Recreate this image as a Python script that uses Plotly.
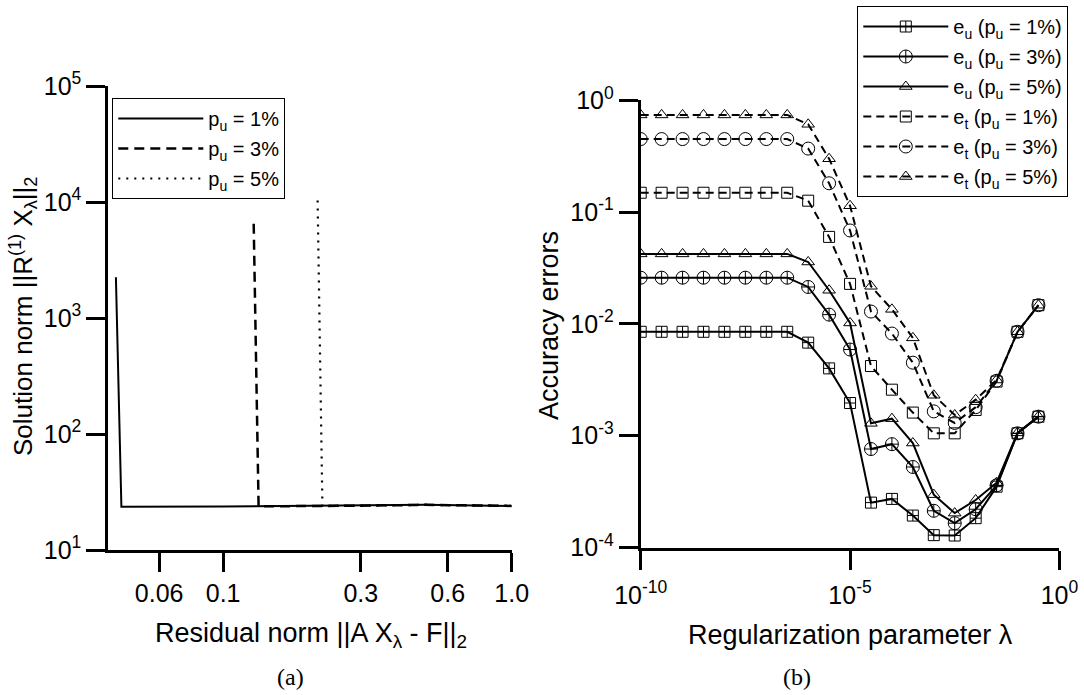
import plotly.graph_objects as go

W, H = 1084, 695

# ---------------- Panel (a): L-curves ----------------
res_p1 = [0.0425, 0.0444, 0.1, 0.3, 0.5, 1.0]
sol_p1 = [2250, 23.6, 23.7, 24.1, 24.5, 24.0]
res_p3 = [0.1276, 0.1327, 0.3, 0.5, 1.0]
sol_p3 = [6500, 23.8, 24.1, 24.5, 24.0]
res_p5 = [0.2125, 0.2208, 0.3, 0.5, 1.0]
sol_p5 = [10300, 24.0, 24.1, 24.5, 24.0]

a_xtick_vals = [0.06, 0.1, 0.3, 0.6, 1.0]
a_xtick_text = ["0.06", "0.1", "0.3", "0.6", "1.0"]
a_ytick_vals = [1e1, 1e2, 1e3, 1e4, 1e5]
a_ytick_text = ["10<sup>1</sup>", "10<sup>2</sup>", "10<sup>3</sup>", "10<sup>4</sup>", "10<sup>5</sup>"]

# ---------------- Panel (b): accuracy errors ----------------
lam = [1e-10, 3.16e-10, 1e-9, 3.16e-9, 1e-8, 3.16e-8, 1e-7, 3.16e-7, 1e-6, 3.16e-6,
       1e-5, 3.16e-5, 1e-4, 3.16e-4, 1e-3, 3.16e-3, 1e-2, 3.16e-2, 1e-1, 3.16e-1]
eu_p1 = [0.0085, 0.0085, 0.0085, 0.0085, 0.0085, 0.0085, 0.0085, 0.0085, 0.0068, 0.0040,
         0.00196, 0.000252, 0.000272, 0.000193, 0.000129, 0.000128, 0.000183, 0.00035, 0.00105, 0.00148]
eu_p3 = [0.0259, 0.0259, 0.0259, 0.0259, 0.0259, 0.0259, 0.0259, 0.0259, 0.0214, 0.0121,
         0.0059, 0.00076, 0.00084, 0.000525, 0.000213, 0.000165, 0.00022, 0.00036, 0.00105, 0.00148]
eu_p5 = [0.0423, 0.0423, 0.0423, 0.0423, 0.0423, 0.0423, 0.0423, 0.0423, 0.0358, 0.020,
         0.0102, 0.00129, 0.00142, 0.00086, 0.000297, 0.000203, 0.000266, 0.00038, 0.00106, 0.00149]
et_p1 = [0.149, 0.149, 0.149, 0.149, 0.149, 0.149, 0.149, 0.149, 0.1265, 0.060,
         0.0228, 0.0042, 0.00258, 0.00161, 0.00105, 0.00105, 0.0017, 0.00305, 0.0085, 0.0147]
et_p3 = [0.45, 0.45, 0.45, 0.45, 0.45, 0.45, 0.45, 0.45, 0.37, 0.181,
         0.0685, 0.0129, 0.0082, 0.0045, 0.00165, 0.0013, 0.0018, 0.0031, 0.0085, 0.0147]
et_p5 = [0.74, 0.74, 0.74, 0.74, 0.74, 0.74, 0.74, 0.74, 0.61, 0.30,
         0.114, 0.0217, 0.0135, 0.0075, 0.0023, 0.00153, 0.0021, 0.00315, 0.0085, 0.0147]

b_xtick_vals = [1e-10, 1e-5, 1e0]
b_xtick_text = ["10<sup>-10</sup>", "10<sup>-5</sup>", "10<sup>0</sup>"]
b_ytick_vals = [1e-4, 1e-3, 1e-2, 1e-1, 1e0]
b_ytick_text = ["10<sup>-4</sup>", "10<sup>-3</sup>", "10<sup>-2</sup>", "10<sup>-1</sup>", "10<sup>0</sup>"]

FONT = "Liberation Sans, Arial, Helvetica, sans-serif"
SERIF = "Liberation Serif, Times New Roman, serif"


def px_x(p):
    return p / W


def px_y(p):
    return 1 - p / H


fig = go.Figure()

# panel (a) traces
a_series = [
    (res_p1, sol_p1, "p<sub>u</sub> = 1%", "solid", 2),
    (res_p3, sol_p3, "p<sub>u</sub> = 3%", "10px,6px", 2.5),
    (res_p5, sol_p5, "p<sub>u</sub> = 5%", "2px,6px", 2.2),
]
for i, (xv, yv, nm, dash, lw) in enumerate(a_series):
    fig.add_trace(go.Scatter(x=xv, y=yv, mode="lines", name=nm,
                             line=dict(color="black", width=lw, dash=dash),
                             xaxis="x", yaxis="y", legend="legend", legendgroup=f"a{i}"))

# panel (b) traces
series_b = [
    (eu_p1, "e<sub>u</sub> (p<sub>u</sub> = 1%)", "solid", "square-cross-open", 11),
    (eu_p3, "e<sub>u</sub> (p<sub>u</sub> = 3%)", "solid", "circle-cross-open", 13),
    (eu_p5, "e<sub>u</sub> (p<sub>u</sub> = 5%)", "solid", "triangle-up-open", 11),
    (et_p1, "e<sub>t</sub> (p<sub>u</sub> = 1%)", "8px,5px", "square-open", 11),
    (et_p3, "e<sub>t</sub> (p<sub>u</sub> = 3%)", "8px,5px", "circle-open", 13),
    (et_p5, "e<sub>t</sub> (p<sub>u</sub> = 5%)", "8px,5px", "triangle-up-open", 11),
]
for i, (yv, nm, dash, sym, sz) in enumerate(series_b):
    fig.add_trace(go.Scatter(
        x=lam, y=yv, mode="lines+markers", name=nm,
        line=dict(color="black", width=2, dash=dash),
        marker=dict(symbol=sym, size=sz, color="black", line=dict(color="black", width=1)),
        xaxis="x2", yaxis="y2", legend="legend2", legendgroup=f"b{i}"))

axis_common = dict(
    type="log", showgrid=False, zeroline=False, showline=True, linecolor="black", linewidth=3,
    ticks="outside", ticklen=19, tickwidth=3, tickcolor="black", mirror=False, automargin=False,
    tickfont=dict(family=FONT, size=25, color="black"),
)

fig.update_layout(
    width=W, height=H,
    margin=dict(l=0, r=0, t=0, b=0, pad=0, autoexpand=False),
    paper_bgcolor="white", plot_bgcolor="white",
    font=dict(family=FONT, color="black"),
    xaxis=dict(axis_common, range=[-1.398, 0], domain=[px_x(108.3), px_x(511.7)],
               tickvals=a_xtick_vals, ticktext=a_xtick_text, anchor="y", ticklabelstandoff=0),
    yaxis=dict(axis_common, range=[1, 5], domain=[px_y(550), px_y(86)],
               tickvals=a_ytick_vals, ticktext=a_ytick_text, anchor="x"),
    xaxis2=dict(axis_common, range=[-10, 0], domain=[px_x(640.7), px_x(1059.4)],
                tickvals=b_xtick_vals, ticktext=b_xtick_text, anchor="y2", ticklabelstandoff=4),
    yaxis2=dict(axis_common, range=[-4, 0], domain=[px_y(547.5), px_y(100.3)],
                tickvals=b_ytick_vals, ticktext=b_ytick_text, anchor="x2"),
    legend=dict(x=px_x(112.3), y=px_y(98), xanchor="left", yanchor="top",
                bordercolor="black", borderwidth=1, bgcolor="white", tracegroupgap=1,
                font=dict(family=FONT, size=20, color="black"), itemwidth=85),
    legend2=dict(x=px_x(857.3), y=px_y(6), xanchor="left", yanchor="top",
                 bordercolor="black", borderwidth=1, bgcolor="white", tracegroupgap=1,
                 font=dict(family=FONT, size=20, color="black"), itemwidth=85),
    showlegend=True,
    hovermode=False,
)

annots = [
    ("Residual norm ||A X<sub>λ</sub> - F||<sub>2</sub>", 310.5, 635, 0, FONT, 27),
    ("Regularization parameter λ", 850.5, 635, 0, FONT, 27),
    ("Solution norm ||R<sup>(1)</sup> X<sub>λ</sub>||<sub>2</sub>", 23, 317, -90, FONT, 26),
    ("Accuracy errors", 549, 326, -90, FONT, 27),
    ("(a)", 290, 677, 0, SERIF, 24),
    ("(b)", 797, 677, 0, SERIF, 24),
]
for txt, ax_, ay_, ang, fam, sz in annots:
    fig.add_annotation(text=txt, x=px_x(ax_), y=px_y(ay_), xref="paper", yref="paper",
                       xanchor="center", yanchor="middle", showarrow=False, textangle=ang,
                       font=dict(family=fam, size=sz, color="black"))

fig.write_html("out.html")
